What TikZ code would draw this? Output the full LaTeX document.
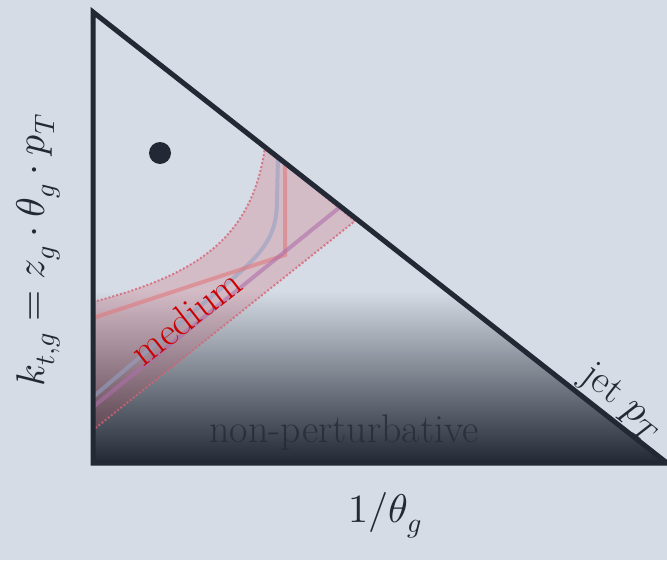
\documentclass[tikz,border=0pt]{standalone}
\usepackage{unicode-math}
\usepackage{tikz}
\usetikzlibrary{arrows.meta}

\definecolor{bgblue}{RGB}{214,220,229}
\definecolor{darkslate}{RGB}{34,40,52}
\definecolor{bandred}{RGB}{205,60,80}
\definecolor{mediumred}{RGB}{204,0,0}
\definecolor{curvegray}{RGB}{150,160,195}
\definecolor{curvered}{RGB}{225,120,125}
\definecolor{curvepurple}{RGB}{175,110,170}

\begin{document}
\begin{tikzpicture}[
    x=1pt, y=-1pt,
    frame/.style={draw=darkslate, line width=5pt, line join=miter},
    band/.style={fill=bandred, fill opacity=0.2, draw=bandred!80, draw opacity=0.8, dotted, line width=2pt},
    trace/.style={line width=4pt, opacity=0.6},
    every node/.style={font=\fontsize{40}{44}\selectfont}
]
\useasboundingbox (0,0) rectangle (667,560);
\fill[bgblue] (0,0) rectangle (667,560);

\coordinate (top) at (93,12);
\coordinate (orig) at (93,463);
\coordinate (right) at (667,463);

\begin{scope}
\clip (top) -- (orig) -- (right) -- cycle;
\shade[top color=bgblue, bottom color=darkslate] (93,290) rectangle (667,463);
\end{scope}

\coordinate (bandtl) at (93,302);
\coordinate (bandtr) at (265,147);
\coordinate (bandbr) at (355,221);
\coordinate (bandbl) at (93,430);
\path[band] (bandtl) .. controls (195,275) and (252,240) .. (bandtr)
    -- (bandbr) -- (bandbl) -- cycle;

\draw[trace, curvegray] (93,397) -- (225,285) .. controls (265,252) and (277,235) .. (277,200) -- (278,157);
\draw[trace, curvered] (93,318) -- (285,255) -- (285,163);
\draw[trace, curvepurple] (93,407) -- (340,207);

\node[mediumred, rotate=38] (med) at (186,317) {medium};
\node[darkslate, opacity=0.75] (np) at (344,433) {non-perturbative};

\draw[frame] (top) -- (orig) -- (right) -- cycle;
\path (top) -- (right) node[pos=0.9, sloped, above, darkslate, inner sep=2pt] (jet) {jet $p_T$};

\fill[darkslate] (160,153) circle (11);

\node[darkslate, rotate=90] (ylab) at (38,250) {$k_{t,g} = z_g \cdot \theta_g \cdot p_T$};
\node[darkslate] (xlab) at (385,515) {$1/\theta_g$};
\end{tikzpicture}
\end{document}
